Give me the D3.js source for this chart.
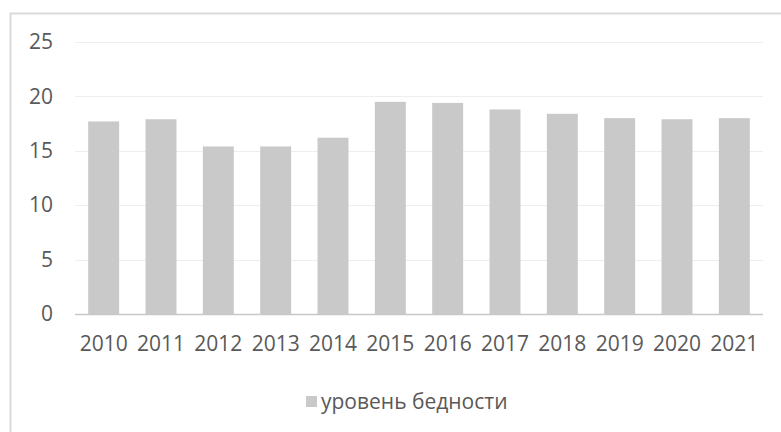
<!DOCTYPE html>
<html>
<head>
<meta charset="utf-8">
<script src="https://cdn.jsdelivr.net/npm/d3@7"></script>
<style>
  html, body { margin: 0; padding: 0; background: #fff; }
  svg { display: block; }
  text { font-family: "Open Sans", "Noto Sans", sans-serif; fill: #595959; }
</style>
</head>
<body>
<svg id="chart" width="781" height="432"></svg>
<script>
// Poverty level by year
const years = ["2010", "2011", "2012", "2013", "2014", "2015", "2016", "2017", "2018", "2019", "2020", "2021"];
const povertyLevel = [17.7, 17.9, 15.4, 15.4, 16.2, 19.5, 19.4, 18.8, 18.4, 18.0, 17.9, 18.0];
const yTicks = [0, 5, 10, 15, 20, 25];
const seriesName = "уровень бедности";

const svg = d3.select("#chart");
const W = 781, H = 432;
const plot = { left: 75, right: 763, top: 42, bottom: 314 };
const fontSize = 21;

// outer chart frame
svg.append("rect")
  .attr("x", 10.5).attr("y", 13.5)
  .attr("width", W + 20).attr("height", H + 20)
  .attr("fill", "none")
  .attr("stroke", "#d9d9d9")
  .attr("stroke-width", 2);

const x = d3.scaleBand()
  .domain(years)
  .range([plot.left, plot.right])
  .paddingInner(0.46)
  .paddingOuter(0.23);

const y = d3.scaleLinear()
  .domain([0, 25])
  .range([plot.bottom, plot.top]);

// horizontal gridlines
svg.append("g")
  .selectAll("line")
  .data(yTicks.filter(d => d > 0))
  .join("line")
  .attr("x1", plot.left).attr("x2", plot.right)
  .attr("y1", d => Math.round(y(d)) + 0.5)
  .attr("y2", d => Math.round(y(d)) + 0.5)
  .attr("stroke", "#eeeeee")
  .attr("stroke-width", 1);

// bars
svg.append("g")
  .selectAll("rect")
  .data(years.map((yr, i) => ({ yr, v: povertyLevel[i] })))
  .join("rect")
  .attr("x", d => x(d.yr))
  .attr("width", x.bandwidth())
  .attr("y", d => y(d.v))
  .attr("height", d => y(0) - y(d.v))
  .attr("fill", "#c9c9c9");

// baseline
svg.append("line")
  .attr("x1", plot.left).attr("x2", plot.right)
  .attr("y1", y(0) + 0.5).attr("y2", y(0) + 0.5)
  .attr("stroke", "#c8c8c8")
  .attr("stroke-width", 1.5);

// y axis labels
const yAxis = d3.axisLeft(y).tickValues(yTicks).tickSize(0).tickPadding(0);
const gy = svg.append("g")
  .attr("transform", `translate(53,0)`)
  .call(yAxis);
gy.select(".domain").remove();
gy.selectAll("text")
  .attr("font-size", fontSize)
  .style("font-family", '"Open Sans", sans-serif')
  .attr("fill", "#595959");

// x axis labels
const xAxis = d3.axisBottom(x).tickSize(0).tickPadding(0);
const gx = svg.append("g")
  .attr("transform", `translate(0,${plot.bottom + 22})`)
  .call(xAxis);
gx.select(".domain").remove();
gx.selectAll("text")
  .attr("font-size", fontSize)
  .style("font-family", '"Open Sans", sans-serif')
  .attr("fill", "#595959");

// legend
const legend = svg.append("g").attr("transform", "translate(306,396)");
legend.append("rect")
  .attr("width", 11).attr("height", 11)
  .attr("fill", "#c9c9c9");
legend.append("text")
  .attr("x", 15).attr("y", 6)
  .attr("dy", "0.35em")
  .attr("font-size", fontSize)
  .text(seriesName);
</script>
</body>
</html>
